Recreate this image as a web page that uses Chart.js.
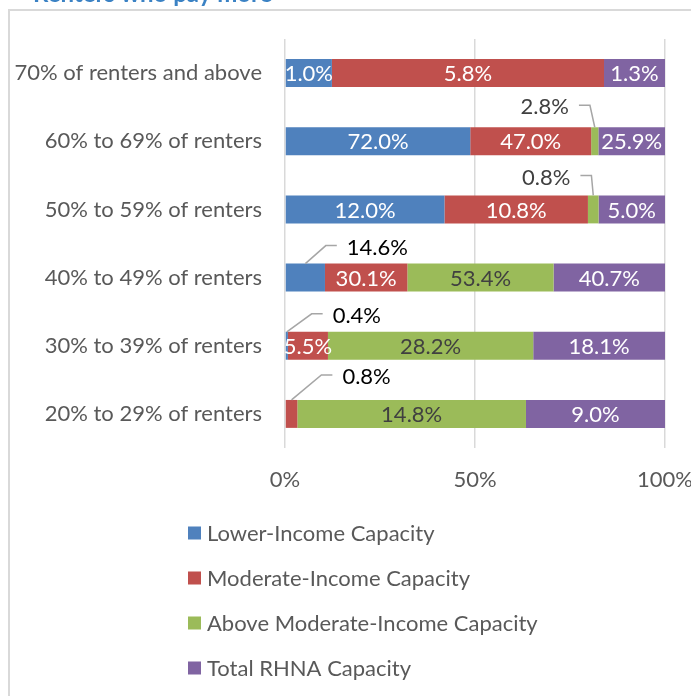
<!DOCTYPE html>
<html>
<head>
<meta charset="utf-8">
<title>RHNA Capacity by Share of Renters</title>
<script src="https://cdn.jsdelivr.net/npm/chart.js@4.4.1/dist/chart.umd.min.js"></script>
<style>
    html, body { margin: 0; padding: 0; background: #fff; overflow: hidden; }
    #wrap { position: relative; width: 691px; height: 696px; }
</style>
</head>
<body>
<div id="wrap"><canvas id="capacityChart" width="691" height="696"></canvas></div>
<script>
// Категории (сверху вниз) и значения по сериям, в процентах
const categories = [
    "70% of renters and above",
    "60% to 69% of renters",
    "50% to 59% of renters",
    "40% to 49% of renters",
    "30% to 39% of renters",
    "20% to 29% of renters"
];
const seriesNames = [
    "Lower-Income Capacity",
    "Moderate-Income Capacity",
    "Above Moderate-Income Capacity",
    "Total RHNA Capacity"
];
const lowerIncome    = [1.0, 72.0, 12.0, 14.6, 0.4, 0];
const moderateIncome = [5.8, 47.0, 10.8, 30.1, 5.5, 0.8];
const aboveModerate  = [0, 2.8, 0.8, 53.4, 28.2, 14.8];
const totalRhna      = [1.3, 25.9, 5.0, 40.7, 18.1, 9.0];
const xTicks = [0, 50, 100];

const chartTitle = "Renters who pay more";
const colors = ["#4F81BD", "#C0504D", "#9BBB59", "#8064A2"];
const labelColors = ["#ffffff", "#ffffff", "#404040", "#ffffff"];
const FONT = "Lato";
const FONT_SIZE = 22;

// 100% stacked: each row is scaled to its own total
const series = [lowerIncome, moderateIncome, aboveModerate, totalRhna];
const rowTotals = categories.map((_, i) => series.reduce((s, arr) => s + arr[i], 0));
const toShare = arr => arr.map((v, i) => v / rowTotals[i] * 100);

// Labels pulled outside the bar with a leader line
const callouts = [
    { ds: 2, row: 1, dx: -50, dy: -20, color: "#404040" },
    { ds: 2, row: 2, dx: -47, dy: -18, color: "#404040" },
    { ds: 0, row: 3, dx: 72, dy: -16, color: "#000000" },
    { ds: 0, row: 4, dx: 70, dy: -16, color: "#000000" },
    { ds: 1, row: 5, dx: 75, dy: -23, color: "#000000" }
];

const fmt = v => v.toFixed(1) + "%";

// Рамка и заголовок
const framePlugin = {
    id: "frame",
    beforeDraw(chart) {
        const ctx = chart.ctx;
        ctx.save();
        ctx.fillStyle = "#ffffff";
        ctx.fillRect(0, 0, chart.width, chart.height);
        ctx.font = "bold 24px " + FONT;
        ctx.fillStyle = "#3B82C4";
        ctx.textBaseline = "alphabetic";
        ctx.fillText(chartTitle, 33, 2);
        ctx.strokeStyle = "#d9d9d9";
        ctx.lineWidth = 2;
        ctx.beginPath();
        ctx.moveTo(9, chart.height);
        ctx.lineTo(9, 10);
        ctx.lineTo(chart.width, 10);
        ctx.stroke();
        ctx.restore();
    }
};

// Подписи значений на сегментах
const barLabelsPlugin = {
    id: "barLabels",
    afterDatasetsDraw(chart) {
        const ctx = chart.ctx;
        ctx.save();
        ctx.font = FONT_SIZE + "px " + FONT;
        ctx.textBaseline = "middle";
        chart.data.datasets.forEach((ds, di) => {
            const meta = chart.getDatasetMeta(di);
            meta.data.forEach((bar, i) => {
                const value = series[di][i];
                if (!value) return;
                const p = bar.getProps(["x", "y", "base", "height"], true);
                const cx = (p.x + p.base) / 2;
                const text = fmt(value);
                const co = callouts.find(c => c.ds === di && c.row === i);
                if (!co) {
                    ctx.fillStyle = labelColors[di];
                    ctx.textAlign = "center";
                    ctx.fillText(text, cx, p.y + 1);
                    return;
                }
                const top = p.y - p.height / 2;
                const tx = cx + co.dx;
                const ty = top + co.dy;
                const w = ctx.measureText(text).width;
                ctx.fillStyle = co.color;
                ctx.textAlign = "center";
                ctx.fillText(text, tx, ty);
                const dir = co.dx < 0 ? 1 : -1;
                const startX = tx + dir * (w / 2 + 10);
                const elbowX = startX + dir * 11;
                ctx.strokeStyle = "#a6a6a6";
                ctx.lineWidth = 1.5;
                ctx.beginPath();
                ctx.moveTo(startX, ty - 2);
                ctx.lineTo(elbowX, ty - 2);
                ctx.lineTo(cx, top);
                ctx.stroke();
            });
        });
        ctx.restore();
    }
};

// Легенда столбиком под графиком
const legendPlugin = {
    id: "stackLegend",
    afterDraw(chart) {
        const ctx = chart.ctx;
        ctx.save();
        ctx.font = FONT_SIZE + "px " + FONT;
        ctx.textBaseline = "middle";
        ctx.textAlign = "left";
        chart.data.datasets.forEach((ds, i) => {
            const y = 533 + i * 45;
            ctx.fillStyle = ds.backgroundColor;
            ctx.fillRect(188, y - 6.5, 13, 13);
            ctx.fillStyle = "#595959";
            ctx.fillText(ds.label, 207, y + 1);
        });
        ctx.restore();
    }
};

const ctx = document.getElementById("capacityChart").getContext("2d");
new Chart(ctx, {
    type: "bar",
    data: {
        labels: categories,
        datasets: series.map((arr, i) => ({
            label: seriesNames[i],
            data: toShare(arr),
            backgroundColor: colors[i],
            borderWidth: 0,
            barPercentage: 0.41,
            categoryPercentage: 1
        }))
    },
    options: {
        indexAxis: "y",
        responsive: false,
        animation: false,
        layout: { padding: { left: 10, right: 26, top: 39, bottom: 198 } },
        scales: {
            x: {
                stacked: true,
                min: 0,
                max: 100,
                afterBuildTicks: scale => { scale.ticks = xTicks.map(v => ({ value: v })); },
                afterFit: scale => {
                    scale.height = 50;
                    scale.paddingLeft = 0;
                    scale.paddingRight = 0;
                },
                ticks: {
                    callback: v => v + "%",
                    color: "#595959",
                    font: { family: FONT, size: FONT_SIZE },
                    padding: 19,
                    maxRotation: 0
                },
                grid: { color: "#d9d9d9", lineWidth: 1.5, drawTicks: false },
                border: { display: false }
            },
            y: {
                stacked: true,
                afterFit: scale => { scale.width = 275; },
                ticks: {
                    color: "#595959",
                    font: { family: FONT, size: FONT_SIZE },
                    padding: 23
                },
                grid: { display: false, drawTicks: false },
                border: { display: false }
            }
        },
        plugins: {
            legend: { display: false },
            tooltip: { enabled: false }
        }
    },
    plugins: [framePlugin, barLabelsPlugin, legendPlugin]
});
</script>
</body>
</html>
